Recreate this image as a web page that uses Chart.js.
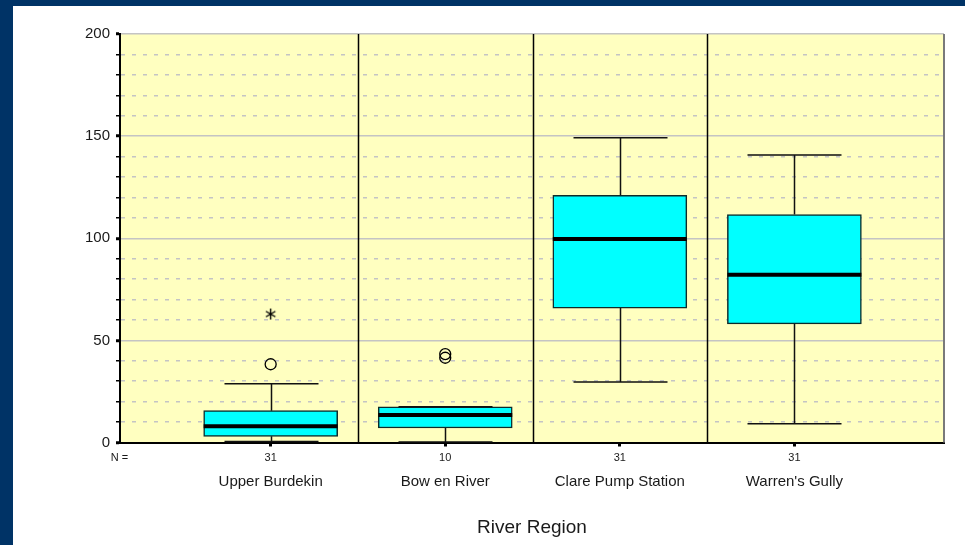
<!DOCTYPE html>
<html>
<head>
<meta charset="utf-8">
<script src="https://cdn.jsdelivr.net/npm/chart.js@4.4.1/dist/chart.umd.min.js"></script>
<style>
  html, body { margin: 0; padding: 0; }
  body { width: 965px; height: 545px; background: #003366; position: relative; overflow: hidden; }
  #frame { position: absolute; left: 13px; top: 6px; width: 952px; height: 539px; background: #fff; }
</style>
</head>
<body>
<div id="frame"><canvas id="myChart" width="952" height="539"></canvas></div>
<script>
// values
const categories = ['Upper Burdekin', 'Bow en River', 'Clare Pump Station', "Warren's Gully"];
const counts = [31, 10, 31, 31];
const whiskerLow = [0.5, 0.3, 29.6, 9.2];
const q1 = [3.0, 7.1, 65.8, 58.1];
const medians = [7.9, 13.5, 99.6, 82.1];
const q3 = [15.6, 17.5, 121.0, 111.6];
const whiskerHigh = [28.8, 17.5, 149.2, 140.7];
const outlierCat = [0, 1, 1];
const outlierVal = [38.3, 43.3, 41.5];
const extremeCat = [0];
const extremeVal = [62.9];
const yTicks = [0, 50, 100, 150, 200];

Chart.defaults.font.family = '"Liberation Sans", Arial, sans-serif';

// asterisk marker for extreme values
const star = document.createElement('canvas');
star.width = 13; star.height = 13;
(function () {
  const c = star.getContext('2d');
  c.strokeStyle = '#000';
  c.lineWidth = 1.4;
  c.beginPath();
  for (const a of [90, 30, 150]) {
    const r = a * Math.PI / 180;
    c.moveTo(6.5 - 5.5 * Math.cos(r), 6.5 - 5.5 * Math.sin(r));
    c.lineTo(6.5 + 5.5 * Math.cos(r), 6.5 + 5.5 * Math.sin(r));
  }
  c.stroke();
})();

const boxPlot = {
  id: 'boxPlot',
  beforeDraw(chart) {
    const {ctx, chartArea: a} = chart;
    ctx.save();
    ctx.fillStyle = '#ffffc0';
    ctx.fillRect(a.left, a.top, a.right - a.left, a.bottom - a.top);
    ctx.restore();
  },
  beforeDatasetsDraw(chart) {
    const {ctx, chartArea: a, scales: {x}} = chart;
    ctx.save();
    ctx.strokeStyle = '#000';
    ctx.lineWidth = 1.5;
    ctx.beginPath();
    for (let i = 0; i < categories.length - 1; i++) {
      const px = Math.round(x.getPixelForValue(i + 0.5)) + 0.5;
      ctx.moveTo(px, a.top);
      ctx.lineTo(px, a.bottom);
    }
    ctx.stroke();
    // right frame
    ctx.strokeStyle = '#7a7a7a';
    ctx.lineWidth = 2;
    ctx.beginPath();
    ctx.moveTo(a.right, a.top);
    ctx.lineTo(a.right, a.bottom);
    ctx.stroke();
    ctx.restore();
  },
  afterDatasetsDraw(chart) {
    const {ctx, scales: {x, y}} = chart;
    const capHalf = 47, boxHalf = 67;
    ctx.save();
    ctx.strokeStyle = '#111';
    ctx.lineWidth = 1.5;
    categories.forEach((c, i) => {
      const px = Math.round(x.getPixelForValue(i)) + 0.5;
      const yLo = y.getPixelForValue(whiskerLow[i]);
      const yHi = y.getPixelForValue(whiskerHigh[i]);
      ctx.beginPath();
      ctx.moveTo(px, y.getPixelForValue(q3[i]));
      ctx.lineTo(px, yHi);
      ctx.moveTo(px - capHalf, yHi);
      ctx.lineTo(px + capHalf, yHi);
      ctx.moveTo(px, y.getPixelForValue(q1[i]));
      ctx.lineTo(px, yLo);
      ctx.moveTo(px - capHalf, yLo);
      ctx.lineTo(px + capHalf, yLo);
      ctx.stroke();
    });
    ctx.strokeStyle = '#000';
    ctx.lineWidth = 4;
    categories.forEach((c, i) => {
      const px = x.getPixelForValue(i);
      const ym = y.getPixelForValue(medians[i]);
      ctx.beginPath();
      ctx.moveTo(px - boxHalf, ym);
      ctx.lineTo(px + boxHalf, ym);
      ctx.stroke();
    });
    ctx.restore();
  },
  afterDraw(chart) {
    const {ctx, chartArea: a, scales: {x}} = chart;
    ctx.save();
    ctx.fillStyle = '#1a1a1a';
    ctx.font = '11px "Liberation Sans", Arial, sans-serif';
    ctx.textAlign = 'center';
    ctx.textBaseline = 'middle';
    const ny = a.bottom + 15.5;
    ctx.fillText('N =', a.left - 0.5, ny);
    counts.forEach((n, i) => ctx.fillText(String(n), x.getPixelForValue(i), ny));
    ctx.restore();
  }
};

const ctx = document.getElementById('myChart');

new Chart(ctx, {
  type: 'bar',
  data: {
    datasets: [{
      label: 'box',
      data: categories.map((c, i) => ({x: i, y: [q1[i], q3[i]]})),
      backgroundColor: '#00ffff',
      borderColor: '#0d2b2b',
      borderWidth: 1.5,
      borderSkipped: false,
      barThickness: 134
    }, {
      type: 'scatter',
      label: 'outliers',
      data: outlierCat.map((c, k) => ({x: c, y: outlierVal[k]})),
      pointStyle: 'circle',
      pointRadius: 5.5,
      borderColor: '#000',
      backgroundColor: 'rgba(0,0,0,0)',
      borderWidth: 1.3
    }, {
      type: 'scatter',
      label: 'extremes',
      data: extremeCat.map((c, k) => ({x: c, y: extremeVal[k]})),
      pointStyle: star,
      pointRadius: 6
    }]
  },
  options: {
    responsive: false,
    devicePixelRatio: 1,
    animation: false,
    layout: { padding: { left: 0, top: 28, right: 21, bottom: 0 } },
    plugins: {
      legend: { display: false },
      tooltip: { enabled: false }
    },
    scales: {
      x: {
        type: 'linear',
        min: -0.863,
        max: 3.857,
        offset: false,
        afterBuildTicks: s => { s.ticks = categories.map((c, i) => ({value: i})); },
        afterFit: s => { s.height = 102.5; },
        ticks: {
          callback: v => categories[v],
          color: '#1a1a1a',
          font: { size: 15 },
          padding: 26,
          autoSkip: false,
          maxRotation: 0
        },
        grid: { offset: false, drawOnChartArea: false, drawTicks: true, tickLength: 4, tickWidth: 3, tickColor: '#000' },
        border: { color: '#000', width: 2 },
        title: {
          display: true,
          text: 'River Region',
          color: '#1a1a1a',
          font: { size: 19 },
          padding: { top: 0, bottom: 6 }
        }
      },
      y: {
        min: 0,
        max: 200,
        afterFit: s => { s.width = 107; },
        ticks: {
          stepSize: 10,
          autoSkip: false,
          callback: v => yTicks.includes(v) ? v : '',
          color: '#1a1a1a',
          font: { size: 15 },
          padding: 6
        },
        grid: {
          color: c => (c.tick && c.tick.value === 0) ? 'rgba(0,0,0,0)' : '#c4c4c4',
          lineWidth: 1.5,
          tickLength: 4,
          tickColor: '#000',
          tickWidth: c => (c.tick && c.tick.value % 50 === 0) ? 3 : 1.5
        },
        border: {
          color: '#000',
          width: 2,
          dash: c => (c.tick && c.tick.value % 50 !== 0) ? [4, 7] : []
        }
      }
    }
  },
  plugins: [boxPlot]
});
</script>
</body>
</html>
